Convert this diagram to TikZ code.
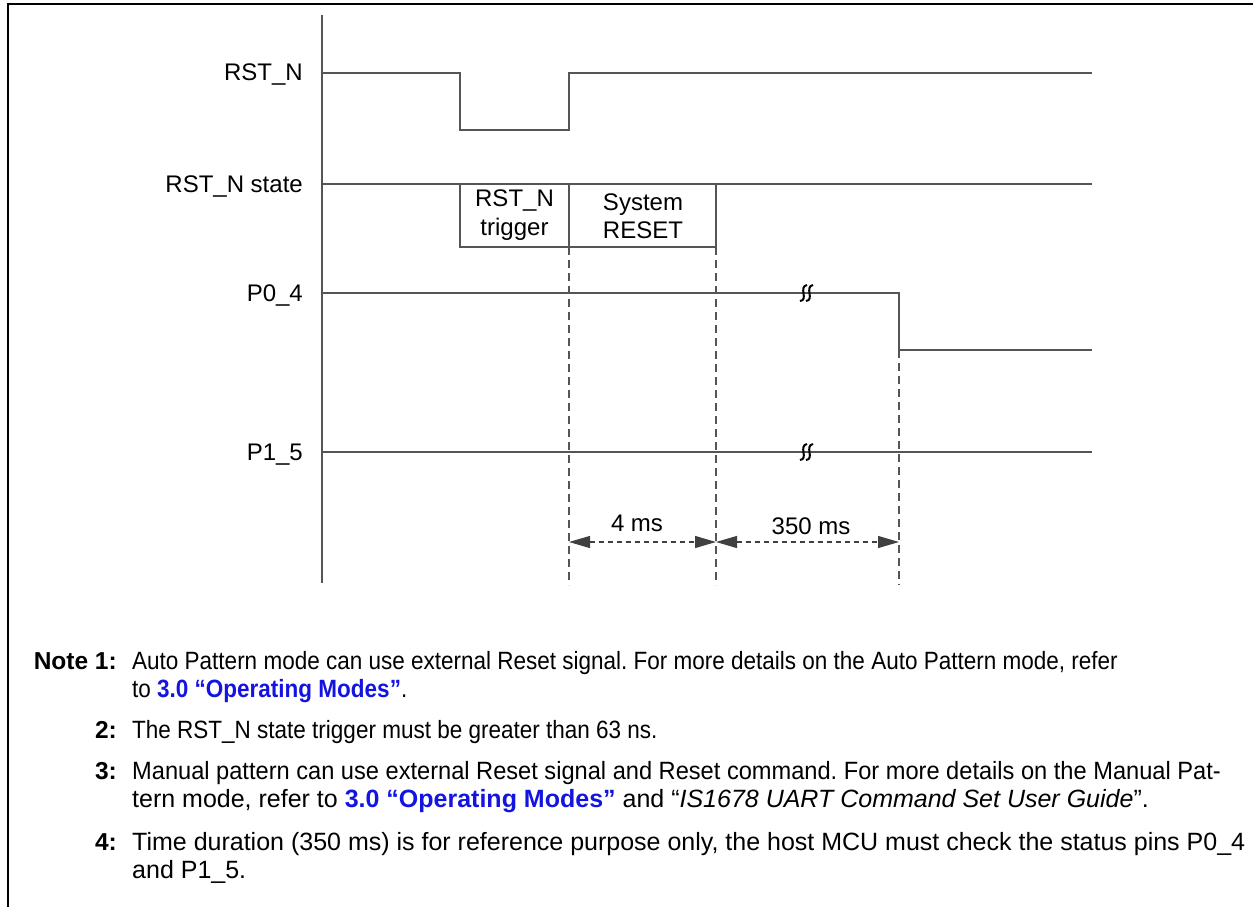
\documentclass[tikz,border=0pt]{standalone}
\usepackage{fontspec}
\setmainfont{Liberation Sans}
\newfontfamily\narrowsf[FakeStretch=0.9]{Liberation Sans}
\newfontfamily\tightsf[FakeStretch=0.945]{Liberation Sans}
\usetikzlibrary{arrows.meta}
\definecolor{linkblue}{RGB}{20,20,225}
\definecolor{wire}{RGB}{85,85,85}
\newcommand{\xref}{{\bfseries\color{linkblue}3.0 “Operating Modes”}}
\frenchspacing
\tikzset{
	wave/.style={wire,line width=1.5pt},
	guide/.style={wire,line width=1.2pt,dash pattern=on 8pt off 5pt},
	span/.style={black!75,line width=1.2pt,dash pattern=on 5pt off 4pt,{Triangle[length=21pt,width=12pt]}-{Triangle[length=21pt,width=12pt]}},
	brk/.style={black,line width=2pt},
	sig/.style={anchor=base east,inner sep=0pt,font=\fontsize{24}{28}\selectfont},
	cell/.style={align=center,inner sep=0pt,font=\fontsize{24}{28.5}\selectfont},
	notenum/.style={anchor=base east,inner sep=0pt,font=\fontsize{24.5}{28}\selectfont\bfseries},
	notetxt/.style={anchor=base west,inner sep=0pt,font=\fontsize{25}{28}\selectfont}
}
\begin{document}
\begin{tikzpicture}[x=1pt,y=-1pt]
	\useasboundingbox (0,0) rectangle (1253,907);
	\draw[line width=2.5pt] (8,907) -- (8,4) -- (1253,4);
	% time axis
	\draw[wave] (322,15) -- (322,583);
	% signal names
	\node[sig] (rst) at (303,81) {RST\_N};
	\node[sig] (rsts) at (303,192) {RST\_N state};
	\node[sig] (p04) at (303,301) {P0\_4};
	\node[sig] (p15) at (303,460) {P1\_5};
	% waveforms
	\draw[wave] (322,73) -- (460,73) -- (460,130) -- (569,130) -- (569,73) -- (1092,73);
	\draw[wave] (322,184) -- (1092,184);
	\draw[wave] (460,184) rectangle (716,247);
	\draw[wave] (569,184) -- (569,247);
	\node[cell] (trig) at (514.5,215) {RST\_N\\trigger};
	\node[cell] (sysr) at (643,216) {System\\RESET};
	\draw[wave] (322,293) -- (899,293) -- (899,350) -- (1092,350);
	\draw[wave] (322,452) -- (1092,452);
	\foreach \by in {293,452} {
		\begin{scope}[shift={(808,\by)}]
			\draw[brk] (-8,8) .. controls (1,7) and (-10,-6) .. (-1,-8);
			\draw[brk] (-2,8) .. controls (7,7) and (-4,-6) .. (5,-8);
		\end{scope}
	}
	% timing guides
	\draw[guide] (569,247) -- (569,585);
	\draw[guide] (716,247) -- (716,585);
	\draw[guide] (899,350) -- (899,585);
	\coordinate (t0) at (569,542);
	\coordinate (t1) at (716,542);
	\coordinate (t2) at (899,542);
	\draw[span] (t0) -- (t1);
	\draw[span] (t1) -- (t2);
	\node[cell] (d4) at (637,523) {4 ms};
	\node[cell] (d350) at (811,526) {350 ms};
	% notes
	\node[notenum] (k1) at (117,669) {Note 1:};
	\node[notetxt,font=\fontsize{25}{28}\narrowsf] (n1a) at (132,669) {Auto Pattern mode can use external Reset signal. For more details on the Auto Pattern mode, refer};
	\node[notetxt,font=\fontsize{25}{28}\narrowsf] (n1b) at (132,697) {to \xref.};
	\node[notenum] (k2) at (117,738) {2:};
	\node[notetxt,font=\fontsize{25}{28}\narrowsf] (n2) at (132,738) {The RST\_N state trigger must be greater than 63 ns.};
	\node[notenum] (k3) at (117,779) {3:};
	\node[notetxt,font=\fontsize{25}{28}\tightsf] (n3a) at (132,779) {Manual pattern can use external Reset signal and Reset command. For more details on the Manual Pat-};
	\node[notetxt] (n3b) at (132,807) {tern mode, refer to \xref{} and “\textit{IS1678 UART Command Set User Guide}”.};
	\node[notenum] (k4) at (117,850) {4:};
	\node[notetxt] (n4a) at (132,850) {Time duration (350 ms) is for reference purpose only, the host MCU must check the status pins P0\_4};
	\node[notetxt] (n4b) at (132,878) {and P1\_5.};
\end{tikzpicture}
\end{document}
